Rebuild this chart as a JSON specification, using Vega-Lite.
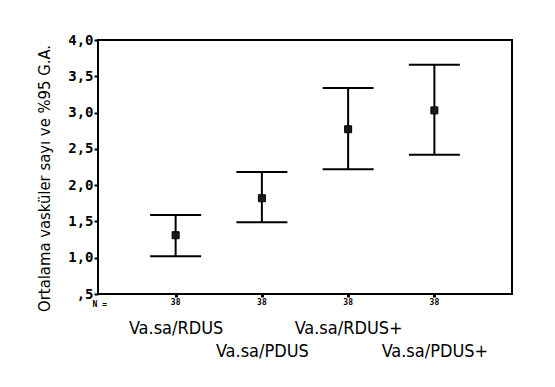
{
  "$schema": "https://vega.github.io/schema/vega-lite/v6.json",
  "width": 414,
  "height": 254,
  "autosize": {"type": "none"},
  "padding": {"left": 98, "top": 40, "right": 43, "bottom": 93},
  "background": "white",
  "config": {
    "view": {"stroke": "black", "strokeWidth": 2},
    "axis": {"grid": false, "domain": false},
    "axisY": {
      "labelOverlap": false,
      "labelBound": false,
      "labelFont": "DejaVu Sans Mono",
      "labelFontWeight": "bold",
      "labelFontSize": 14,
      "labelColor": "black",
      "labelPadding": 1,
      "tickSize": 4,
      "tickWidth": 2,
      "tickColor": "black",
      "titleFont": "Liberation Sans Narrow, DejaVu Sans Condensed, sans-serif",
      "titleFontSize": 16.5,
      "titleFontWeight": "normal",
      "titleColor": "black",
      "titlePadding": 15,
      "titleY": 138
    }
  },
  "data": {
    "values": [
      {"group": "Va.sa/RDUS", "mean": 1.31, "lower": 1.02, "upper": 1.59, "n": 38},
      {"group": "Va.sa/PDUS", "mean": 1.82, "lower": 1.49, "upper": 2.18, "n": 38},
      {"group": "Va.sa/RDUS+", "mean": 2.77, "lower": 2.22, "upper": 3.34, "n": 38},
      {"group": "Va.sa/PDUS+", "mean": 3.03, "lower": 2.42, "upper": 3.66, "n": 38}
    ]
  },
  "encoding": {
    "x": {
      "field": "group",
      "type": "nominal",
      "sort": null,
      "scale": {"type": "point", "padding": 0.9},
      "axis": {
        "title": "N =",
        "titleX": -6,
        "titleY": 10,
        "titleAlign": "left",
        "titleBaseline": "middle",
        "titleFont": "DejaVu Sans Mono",
        "titleFontWeight": "bold",
        "titleFontSize": 8,
        "titleColor": "black",
        "labelAngle": 0,
        "labelFont": "Liberation Sans Narrow, DejaVu Sans Condensed, sans-serif",
        "labelFontSize": 18,
        "labelColor": "black",
        "labelBaseline": "top",
        "labelPadding": 22,
        "labelLineHeight": 23,
        "labelOverlap": false,
        "labelExpr": "indexof(['Va.sa/PDUS','Va.sa/PDUS+'], datum.value) >= 0 ? ['', datum.value] : datum.value",
        "ticks": true,
        "tickSize": 3,
        "tickWidth": 3,
        "tickColor": "black"
      }
    }
  },
  "layer": [
    {
      "mark": {"type": "rule", "color": "black", "strokeWidth": 2, "opacity": 1},
      "encoding": {
        "y": {
          "field": "lower",
          "type": "quantitative",
          "scale": {"domain": [0.5, 4.0], "nice": false, "zero": false},
          "axis": {
            "title": "Ortalama vasküler sayı ve %95 G.A.",
            "values": [0.5, 1, 1.5, 2, 2.5, 3, 3.5, 4],
            "labelExpr": "datum.value == 0.5 ? ',5' : replace(format(datum.value, '.1f'), '.', ',')"
          }
        },
        "y2": {"field": "upper"}
      }
    },
    {
      "mark": {"type": "tick", "color": "black", "thickness": 2, "size": 51, "opacity": 1},
      "encoding": {"y": {"field": "upper", "type": "quantitative", "axis": {
            "title": "Ortalama vasküler sayı ve %95 G.A.",
            "values": [0.5, 1, 1.5, 2, 2.5, 3, 3.5, 4],
            "labelExpr": "datum.value == 0.5 ? ',5' : replace(format(datum.value, '.1f'), '.', ',')"
          }}}
    },
    {
      "mark": {"type": "tick", "color": "black", "thickness": 2, "size": 51, "opacity": 1},
      "encoding": {"y": {"field": "lower", "type": "quantitative", "axis": {
            "title": "Ortalama vasküler sayı ve %95 G.A.",
            "values": [0.5, 1, 1.5, 2, 2.5, 3, 3.5, 4],
            "labelExpr": "datum.value == 0.5 ? ',5' : replace(format(datum.value, '.1f'), '.', ',')"
          }}}
    },
    {
      "mark": {"type": "square", "size": 49, "filled": true, "color": "#1a1a1a", "stroke": "black", "strokeWidth": 1, "opacity": 1},
      "encoding": {"y": {"field": "mean", "type": "quantitative", "axis": {
            "title": "Ortalama vasküler sayı ve %95 G.A.",
            "values": [0.5, 1, 1.5, 2, 2.5, 3, 3.5, 4],
            "labelExpr": "datum.value == 0.5 ? ',5' : replace(format(datum.value, '.1f'), '.', ',')"
          }}}
    },
    {
      "mark": {"type": "text", "dy": 9, "baseline": "middle", "font": "DejaVu Sans Mono", "fontWeight": "bold", "fontSize": 8, "color": "black", "clip": false},
      "encoding": {
        "y": {"datum": 0.5, "type": "quantitative", "axis": {
            "title": "Ortalama vasküler sayı ve %95 G.A.",
            "values": [0.5, 1, 1.5, 2, 2.5, 3, 3.5, 4],
            "labelExpr": "datum.value == 0.5 ? ',5' : replace(format(datum.value, '.1f'), '.', ',')"
          }},
        "text": {"field": "n", "type": "quantitative"}
      }
    }
  ]
}
